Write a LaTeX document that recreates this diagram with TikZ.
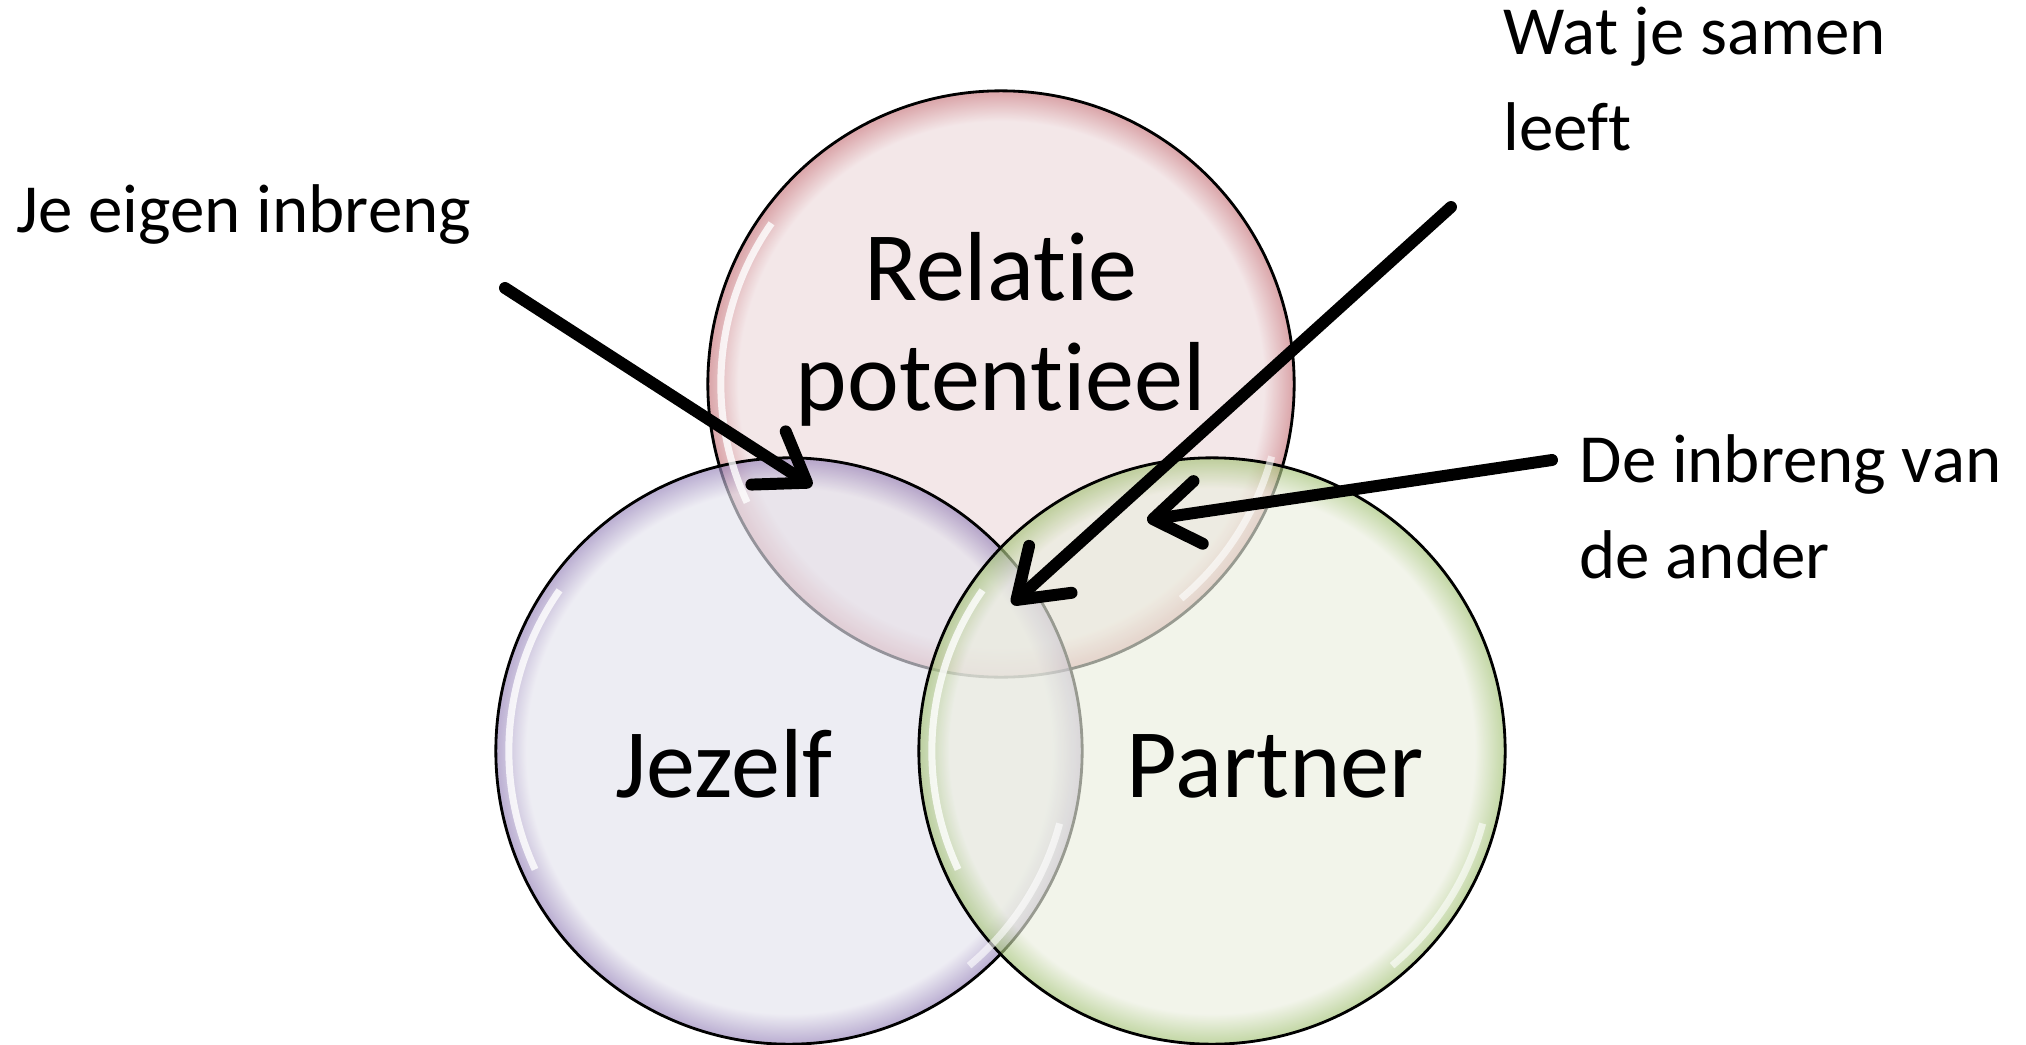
\documentclass[tikz,border=0pt]{standalone}
\usepackage{fontspec}
\setmainfont{Carlito}[Ligatures=NoCommon]
\usepackage{tikz}
\usetikzlibrary{arrows.meta}

\definecolor{relfill}{HTML}{EDDADC}
\definecolor{relglow}{HTML}{C97A80}
\definecolor{zelffill}{HTML}{E4E3ED}
\definecolor{zelfglow}{HTML}{9A88BC}
\definecolor{partnerfill}{HTML}{EBEEDF}
\definecolor{partnerglow}{HTML}{A6C47A}

\pgfdeclareradialshading{relshade}{\pgfpoint{0bp}{0bp}}{color(0bp)=(relfill); color(22.4bp)=(relfill); color(24.8bp)=(relglow); color(50bp)=(relglow)}
\pgfdeclareradialshading{zelfshade}{\pgfpoint{0bp}{0bp}}{color(0bp)=(zelffill); color(22.4bp)=(zelffill); color(24.8bp)=(zelfglow); color(50bp)=(zelfglow)}
\pgfdeclareradialshading{partnershade}{\pgfpoint{0bp}{0bp}}{color(0bp)=(partnerfill); color(22.4bp)=(partnerfill); color(24.8bp)=(partnerglow); color(50bp)=(partnerglow)}

\begin{document}
\begin{tikzpicture}[x=0.01cm, y=0.01cm,
	bubble/.style={circle, minimum size=5.86cm, inner sep=0pt, outer sep=0pt, draw=black, line width=0.8pt, fill opacity=0.65, shade},
	big/.style={font=\fontsize{27.9}{31}\selectfont, inner sep=0pt, align=center},
	small/.style={font=\fontsize{19.6}{27.2}\selectfont, inner sep=0pt, align=left},
	pointer/.style={line width=3.4pt, line cap=round, -{Straight Barb[round, length=13pt, width=18pt]}}]
	\useasboundingbox (0,0) rectangle (2026,1044);

	\node[bubble, shading=relshade] (rel) at (1001,660) {};
	\node[bubble, shading=zelfshade] (zelf) at (789,293) {};
	\node[bubble, shading=partnershade] (partner) at (1212,293) {};
	\foreach \c in {rel,zelf,partner}{
		\draw[white, line width=2pt, opacity=0.8] (\c.center) ++(145:2.8cm) arc[start angle=145, end angle=205, radius=2.8cm];
		\draw[white, line width=2pt, opacity=0.6] (\c.center) ++(-50:2.8cm) arc[start angle=-50, end angle=-15, radius=2.8cm];
	}

	\node[big, anchor=base] (reltxt) at (1001,634) {Relatie\\potentieel};
	\node[big, anchor=base] (zelftxt) at (724,247) {Jezelf};
	\node[big, anchor=base] (partnertxt) at (1275,247) {Partner};
	\node[small, anchor=base west] (eigen) at (16,812) {Je eigen inbreng};
	\node[small, anchor=base west] (samen) at (1503,894) {Wat je samen\\leeft};
	\node[small, anchor=base west] (ander) at (1579,466) {De inbreng van\\de ander};

	\coordinate (eigenstart) at (505,756);
	\coordinate (eigentip) at (812,558);
	\coordinate (samenstart) at (1451,837);
	\coordinate (samentip) at (1012,440);
	\coordinate (anderstart) at (1552,584);
	\coordinate (andertip) at (1147,524);
	\draw[pointer] (eigenstart) -- (eigentip);
	\draw[pointer] (samenstart) -- (samentip);
	\draw[pointer] (anderstart) -- (andertip);
\end{tikzpicture}
\end{document}
